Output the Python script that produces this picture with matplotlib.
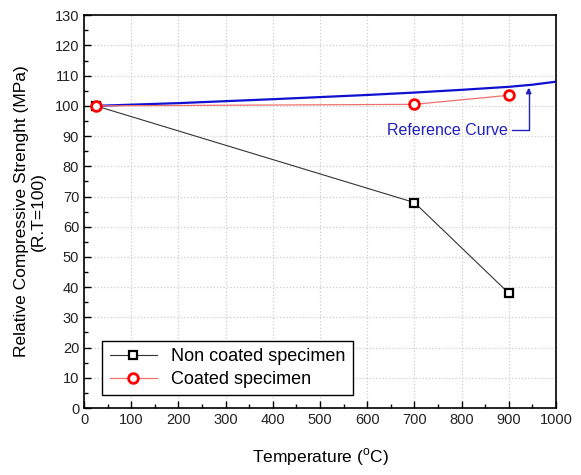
import matplotlib
matplotlib.use("Agg")
import matplotlib.pyplot as plt
from matplotlib.ticker import MultipleLocator

# data
temp_points = [25, 700, 900]
non_coated = [100, 68, 38]
coated = [100, 100.5, 103.5]

ref_temp = [25, 200, 400, 600, 700, 800, 900, 950, 1000]
ref_curve = [100, 100.9, 102.2, 103.6, 104.4, 105.3, 106.3, 107.0, 108.0]

plt.rcParams['font.family'] = ['Liberation Sans', 'DejaVu Sans']

fig = plt.figure(figsize=(5.81, 4.75), dpi=100)
ax = fig.add_axes([0.1446, 0.141, 0.8124, 0.827])

ax.plot(ref_temp, ref_curve, color='#1010d0', lw=1.6, zorder=3)
ax.plot(temp_points, non_coated, color='#333333', lw=0.8, marker='s', ms=6,
        mfc='white', mec='black', mew=1.6, label='Non coated specimen', zorder=4)
ax.plot(temp_points, coated, color='#f07070', lw=0.9, marker='o', ms=7,
        mfc='white', mec='red', mew=2, label='Coated specimen', zorder=4)

ax.annotate('Reference Curve', xy=(942, 106), xytext=(898, 92),
            ha='right', va='center', color='#2020c0', fontsize=11.5,
            arrowprops=dict(arrowstyle='-|>', color='#2020c0', lw=1,
                            connectionstyle='angle,angleA=0,angleB=90,rad=0',
                            shrinkA=1, shrinkB=0, mutation_scale=8))

ax.set_xlim(0, 1000)
ax.set_ylim(0, 130)
ax.xaxis.set_major_locator(MultipleLocator(100))
ax.xaxis.set_minor_locator(MultipleLocator(50))
ax.yaxis.set_major_locator(MultipleLocator(10))
ax.yaxis.set_minor_locator(MultipleLocator(5))
ax.tick_params(which='major', direction='in', length=5, width=1, labelsize=10.5,
               labelcolor='#222222', top=False, right=False)
ax.tick_params(which='minor', direction='in', length=3, width=1, top=False, right=False)
ax.grid(True, which='major', color='#cccccc', linestyle=':', lw=0.9)
for s in ax.spines.values():
    s.set_linewidth(1.2)

ax.set_xlabel('Temperature ($^{\\mathregular{o}}$C)', fontsize=12.5, labelpad=14)
ax.set_ylabel('Relative Compressive Strenght (MPa)\n(R.T=100)', fontsize=12.5,
              labelpad=6)

leg = ax.legend(loc='lower left', bbox_to_anchor=(0.02, 0.01), fontsize=13,
                fancybox=False, edgecolor='black', framealpha=1,
                handlelength=2.6, borderpad=0.4, labelspacing=0.3)
leg.get_frame().set_linewidth(1)

fig.savefig('out.png', dpi=100)
